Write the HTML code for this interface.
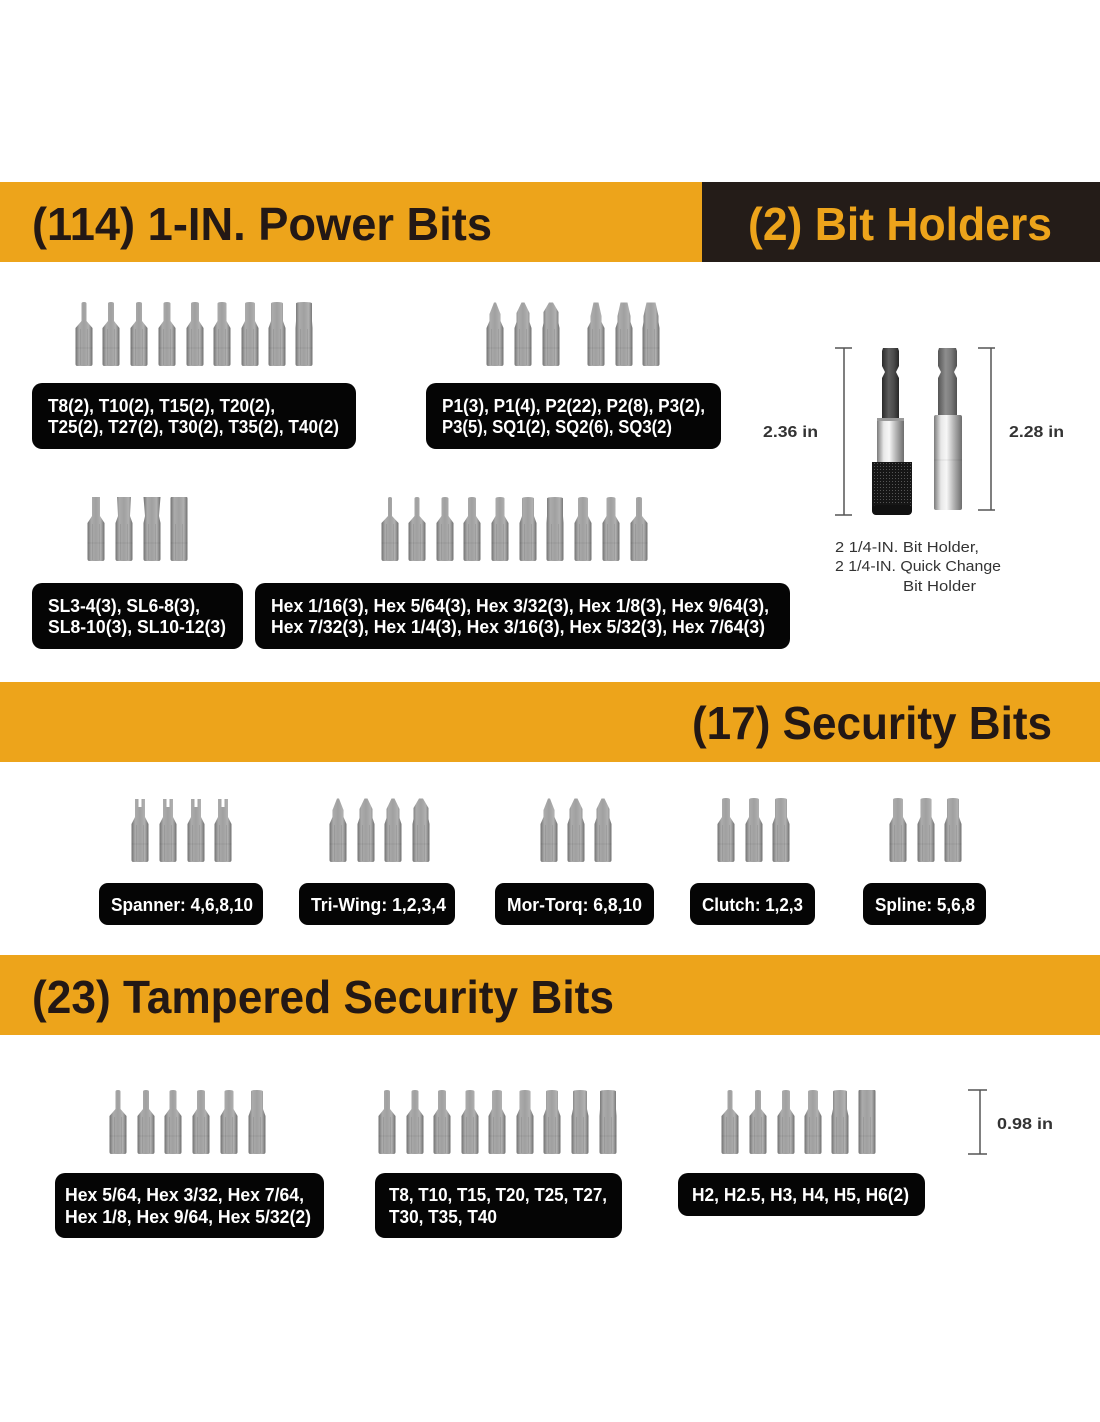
<!DOCTYPE html>
<html><head><meta charset="utf-8"><style>
html,body{margin:0;padding:0;background:#fff;}
svg{display:block;}
.hd{font-family:"Liberation Sans Narrow","Liberation Sans",sans-serif;font-weight:bold;font-size:46px;}
.lb{font-family:"Liberation Sans Narrow","Liberation Sans",sans-serif;font-weight:bold;font-size:18px;fill:#fff;}
.dm{font-family:"Liberation Sans",sans-serif;font-weight:bold;font-size:16px;fill:#333;}
.cp{font-family:"Liberation Sans",sans-serif;font-size:15px;fill:#333;}
</style></head><body>
<svg width="1100" height="1422" viewBox="0 0 1100 1422" xmlns="http://www.w3.org/2000/svg">
<defs>
<linearGradient id="g" x1="0" y1="0" x2="1" y2="0">
<stop offset="0" stop-color="#727272"/><stop offset=".22" stop-color="#ababab"/><stop offset=".5" stop-color="#a0a0a0"/><stop offset=".78" stop-color="#b0b0b0"/><stop offset="1" stop-color="#707070"/>
</linearGradient>
<linearGradient id="dk" x1="0" y1="0" x2="1" y2="0">
<stop offset="0" stop-color="#2a2a2a"/><stop offset=".4" stop-color="#5e5e5e"/><stop offset=".7" stop-color="#4a4a4a"/><stop offset="1" stop-color="#262626"/>
</linearGradient>
<linearGradient id="gr" x1="0" y1="0" x2="1" y2="0">
<stop offset="0" stop-color="#555"/><stop offset=".4" stop-color="#8e8e8e"/><stop offset=".7" stop-color="#7a7a7a"/><stop offset="1" stop-color="#505050"/>
</linearGradient>
<linearGradient id="sv" x1="0" y1="0" x2="1" y2="0">
<stop offset="0" stop-color="#7a7a7a"/><stop offset=".25" stop-color="#e8e8e8"/><stop offset=".45" stop-color="#f7f7f7"/><stop offset=".7" stop-color="#b5b5b5"/><stop offset="1" stop-color="#6d6d6d"/>
</linearGradient>
<pattern id="kn" width="3" height="3" patternUnits="userSpaceOnUse">
<rect width="3" height="3" fill="#161616"/><rect x="1" y="1" width="1" height="1" fill="#555"/>
</pattern>
<g id="fac"><line x1="-3.5" y1="27" x2="-3.5" y2="63" stroke="#000" stroke-opacity=".08"/><line x1="3.5" y1="27" x2="3.5" y2="63" stroke="#000" stroke-opacity=".08"/><line x1="-8.5" y1="46" x2="8.5" y2="46" stroke="#000" stroke-opacity=".07"/></g>
<g id="h20"><path fill="url(#g)" d="M-2,1.5Q-2,0 0,0Q2,0 2,1.5L2,19L8.5,26L8.5,62Q8.5,64 6.5,64L-6.5,64Q-8.5,64 -8.5,62L-8.5,26L-2,19Z"/><use href="#fac"/></g>
<g id="h25"><path fill="url(#g)" d="M-2.5,1.5Q-2.5,0 0,0Q2.5,0 2.5,1.5L2.5,19L8.5,26L8.5,62Q8.5,64 6.5,64L-6.5,64Q-8.5,64 -8.5,62L-8.5,26L-2.5,19Z"/><use href="#fac"/></g>
<g id="h30"><path fill="url(#g)" d="M-3,1.5Q-3,0 0,0Q3,0 3,1.5L3,19L8.5,26L8.5,62Q8.5,64 6.5,64L-6.5,64Q-8.5,64 -8.5,62L-8.5,26L-3,19Z"/><use href="#fac"/></g>
<g id="h35"><path fill="url(#g)" d="M-3.5,1.5Q-3.5,0 0,0Q3.5,0 3.5,1.5L3.5,19L8.5,26L8.5,62Q8.5,64 6.5,64L-6.5,64Q-8.5,64 -8.5,62L-8.5,26L-3.5,19Z"/><use href="#fac"/></g>
<g id="h40"><path fill="url(#g)" d="M-4,1.5Q-4,0 0,0Q4,0 4,1.5L4,19L8.5,26L8.5,62Q8.5,64 6.5,64L-6.5,64Q-8.5,64 -8.5,62L-8.5,26L-4,19Z"/><use href="#fac"/></g>
<g id="h45"><path fill="url(#g)" d="M-4.5,1.5Q-4.5,0 0,0Q4.5,0 4.5,1.5L4.5,19L8.5,26L8.5,62Q8.5,64 6.5,64L-6.5,64Q-8.5,64 -8.5,62L-8.5,26L-4.5,19Z"/><use href="#fac"/></g>
<g id="h50"><path fill="url(#g)" d="M-5,1.5Q-5,0 0,0Q5,0 5,1.5L5,19L8.5,26L8.5,62Q8.5,64 6.5,64L-6.5,64Q-8.5,64 -8.5,62L-8.5,26L-5,19Z"/><use href="#fac"/></g>
<g id="h55"><path fill="url(#g)" d="M-5.5,1.5Q-5.5,0 0,0Q5.5,0 5.5,1.5L5.5,19L8.5,26L8.5,62Q8.5,64 6.5,64L-6.5,64Q-8.5,64 -8.5,62L-8.5,26L-5.5,19Z"/><use href="#fac"/></g>
<g id="h60"><path fill="url(#g)" d="M-6,1.5Q-6,0 0,0Q6,0 6,1.5L6,19L8.5,26L8.5,62Q8.5,64 6.5,64L-6.5,64Q-8.5,64 -8.5,62L-8.5,26L-6,19Z"/><use href="#fac"/></g>
<g id="h70"><path fill="url(#g)" d="M-7,1.5Q-7,0 0,0Q7,0 7,1.5L7,19L8.5,26L8.5,62Q8.5,64 6.5,64L-6.5,64Q-8.5,64 -8.5,62L-8.5,26L-7,19Z"/><use href="#fac"/></g>
<g id="h80"><path fill="url(#g)" d="M-8,1.5Q-8,0 0,0Q8,0 8,1.5L8,19L8.5,26L8.5,62Q8.5,64 6.5,64L-6.5,64Q-8.5,64 -8.5,62L-8.5,26L-8,19Z"/><use href="#fac"/></g>
<g id="h90"><path fill="url(#g)" d="M-7.5,0L7.5,0Q8.5,0 8.5,1.5L8.5,62Q8.5,64 6.5,64L-6.5,64Q-8.5,64 -8.5,62L-8.5,1.5Q-8.5,0 -7.5,0Z"/><use href="#fac"/></g>
<g id="ph1"><path fill="url(#g)" d="M-1,0.5L1,0.5L5.5,12L5.5,19L8.5,26L8.5,62Q8.5,64 6.5,64L-6.5,64Q-8.5,64 -8.5,62L-8.5,26L-5.5,19L-5.5,12Z"/><use href="#fac"/></g>
<g id="ph2"><path fill="url(#g)" d="M-1.5,0.5L1.5,0.5L6.5,11L6.5,20L8.5,26L8.5,62Q8.5,64 6.5,64L-6.5,64Q-8.5,64 -8.5,62L-8.5,26L-6.5,20L-6.5,11Z"/><use href="#fac"/></g>
<g id="ph3"><path fill="url(#g)" d="M-2,0.5L2,0.5L7.5,10L7.5,21L8.5,26L8.5,62Q8.5,64 6.5,64L-6.5,64Q-8.5,64 -8.5,62L-8.5,26L-7.5,21L-7.5,10Z"/><use href="#fac"/></g>
<g id="sq1"><path fill="url(#g)" d="M-2.5,0.5L2.5,0.5L5.5,14L5.5,20L8.5,26L8.5,62Q8.5,64 6.5,64L-6.5,64Q-8.5,64 -8.5,62L-8.5,26L-5.5,20L-5.5,14Z"/><use href="#fac"/></g>
<g id="sq2"><path fill="url(#g)" d="M-3.5,0.5L3.5,0.5L6.5,14L6.5,20L8.5,26L8.5,62Q8.5,64 6.5,64L-6.5,64Q-8.5,64 -8.5,62L-8.5,26L-6.5,20L-6.5,14Z"/><use href="#fac"/></g>
<g id="sq3"><path fill="url(#g)" d="M-4.5,0.5L4.5,0.5L7.5,14L7.5,20L8.5,26L8.5,62Q8.5,64 6.5,64L-6.5,64Q-8.5,64 -8.5,62L-8.5,26L-7.5,20L-7.5,14Z"/><use href="#fac"/></g>
<g id="sl1"><path fill="url(#g)" d="M-4,0L4,0L4,19L8.5,26L8.5,62Q8.5,64 6.5,64L-6.5,64Q-8.5,64 -8.5,62L-8.5,26L-4,19Z"/><use href="#fac"/></g>
<g id="sl2"><path fill="url(#g)" d="M-7,0L7,0L6,19L8.5,26L8.5,62Q8.5,64 6.5,64L-6.5,64Q-8.5,64 -8.5,62L-8.5,26L-6,19Z"/><use href="#fac"/></g>
<g id="sl3"><path fill="url(#g)" d="M-8.5,0L8.5,0L7,19L8.5,26L8.5,62Q8.5,64 6.5,64L-6.5,64Q-8.5,64 -8.5,62L-8.5,26L-7,19Z"/><use href="#fac"/></g>
<g id="sp"><path fill="url(#g)" d="M-5,1L-1.5,1L-1.5,9L1.5,9L1.5,1L5,1L5,19L8.5,26L8.5,62Q8.5,64 6.5,64L-6.5,64Q-8.5,64 -8.5,62L-8.5,26L-5,19Z"/><use href="#fac"/></g>
</defs>

<!-- header bars -->
<rect x="0" y="182" width="702" height="80" fill="#EDA41B"/>
<rect x="702" y="182" width="398" height="80" fill="#241C18"/>
<text class="hd" x="32" y="240" fill="#231815" textLength="460" lengthAdjust="spacingAndGlyphs">(114) 1-IN. Power Bits</text>
<text class="hd" x="748" y="240" fill="#EDA41B" textLength="304" lengthAdjust="spacingAndGlyphs">(2) Bit Holders</text>

<rect x="0" y="682" width="1100" height="80" fill="#EDA41B"/>
<text class="hd" x="692" y="739" fill="#231815" textLength="360" lengthAdjust="spacingAndGlyphs">(17) Security Bits</text>

<rect x="0" y="955" width="1100" height="80" fill="#EDA41B"/>
<text class="hd" x="32" y="1013" fill="#231815" textLength="582" lengthAdjust="spacingAndGlyphs">(23) Tampered Security Bits</text>

<!-- row 1 torx -->
<use href="#h25" x="84" y="302"/><use href="#h30" x="111" y="302"/><use href="#h30" x="139" y="302"/>
<use href="#h35" x="167" y="302"/><use href="#h40" x="195" y="302"/><use href="#h45" x="222" y="302"/>
<use href="#h50" x="250" y="302"/><use href="#h60" x="277" y="302"/><use href="#h80" x="304" y="302"/>
<!-- phillips / square -->
<use href="#ph1" x="495" y="302"/><use href="#ph2" x="523" y="302"/><use href="#ph3" x="551" y="302"/>
<use href="#sq1" x="596" y="302"/><use href="#sq2" x="624" y="302"/><use href="#sq3" x="651" y="302"/>

<rect x="32" y="383" width="324" height="66" rx="10" fill="#050505"/>
<text class="lb" x="48" y="412" textLength="227" lengthAdjust="spacingAndGlyphs">T8(2), T10(2), T15(2), T20(2),</text>
<text class="lb" x="48" y="433" textLength="291" lengthAdjust="spacingAndGlyphs">T25(2), T27(2), T30(2), T35(2), T40(2)</text>
<rect x="426" y="383" width="295" height="66" rx="10" fill="#050505"/>
<text class="lb" x="442" y="412" textLength="263" lengthAdjust="spacingAndGlyphs">P1(3), P1(4), P2(22), P2(8), P3(2),</text>
<text class="lb" x="442" y="433" textLength="230" lengthAdjust="spacingAndGlyphs">P3(5), SQ1(2), SQ2(6), SQ3(2)</text>

<!-- row 2 slotted -->
<use href="#sl1" x="96" y="497"/><use href="#sl2" x="124" y="497"/><use href="#sl3" x="152" y="497"/><use href="#h90" x="179" y="497"/>
<!-- row 2 hex -->
<use href="#h20" x="390" y="497"/><use href="#h25" x="417" y="497"/><use href="#h35" x="445" y="497"/>
<use href="#h40" x="472" y="497"/><use href="#h45" x="500" y="497"/><use href="#h60" x="528" y="497"/>
<use href="#h80" x="555" y="497"/><use href="#h50" x="583" y="497"/><use href="#h45" x="611" y="497"/>
<use href="#h30" x="639" y="497"/>

<rect x="32" y="583" width="211" height="66" rx="10" fill="#050505"/>
<text class="lb" x="48" y="612" textLength="152" lengthAdjust="spacingAndGlyphs">SL3-4(3), SL6-8(3),</text>
<text class="lb" x="48" y="633" textLength="178" lengthAdjust="spacingAndGlyphs">SL8-10(3), SL10-12(3)</text>
<rect x="255" y="583" width="535" height="66" rx="10" fill="#050505"/>
<text class="lb" x="271" y="612" textLength="498" lengthAdjust="spacingAndGlyphs">Hex 1/16(3), Hex 5/64(3), Hex 3/32(3), Hex 1/8(3), Hex 9/64(3),</text>
<text class="lb" x="271" y="633" textLength="494" lengthAdjust="spacingAndGlyphs">Hex 7/32(3), Hex 1/4(3), Hex 3/16(3), Hex 5/32(3), Hex 7/64(3)</text>

<!-- bit holders -->
<line x1="844" y1="348" x2="844" y2="515" stroke="#555" stroke-width="1.5"/>
<line x1="835" y1="348" x2="852" y2="348" stroke="#555" stroke-width="1.5"/>
<line x1="835" y1="515" x2="852" y2="515" stroke="#555" stroke-width="1.5"/>
<line x1="991" y1="348" x2="991" y2="510" stroke="#555" stroke-width="1.5"/>
<line x1="978" y1="348" x2="995" y2="348" stroke="#555" stroke-width="1.5"/>
<line x1="978" y1="510" x2="995" y2="510" stroke="#555" stroke-width="1.5"/>
<text class="dm" x="763" y="437" textLength="55" lengthAdjust="spacingAndGlyphs">2.36 in</text>
<text class="dm" x="1009" y="437" textLength="55" lengthAdjust="spacingAndGlyphs">2.28 in</text>

<!-- holder 1 -->
<path d="M883,348L898,348L899,351L899,366L896,372L899,378L899,420L882,420L882,378L885,372L882,366L882,351Z" fill="url(#dk)"/>
<rect x="877" y="418" width="27" height="44" fill="url(#sv)"/>
<rect x="877" y="418" width="27" height="3" fill="#9a9a9a"/>
<path d="M872,462L912,462L912,509Q912,515 906,515L878,515Q872,515 872,509Z" fill="url(#kn)"/>
<rect x="872" y="505" width="40" height="10" rx="4" fill="#111"/>
<!-- holder 2 -->
<path d="M939,348L956,348L957,351L957,366L954,372L957,378L957,418L938,418L938,378L941,372L938,366L938,351Z" fill="url(#gr)"/>
<rect x="934" y="415" width="28" height="95" rx="2" fill="url(#sv)"/>
<line x1="934" y1="460" x2="962" y2="460" stroke="#000" stroke-opacity=".08"/>

<text class="cp" x="835" y="552" textLength="144" lengthAdjust="spacingAndGlyphs">2 1/4-IN. Bit Holder,</text>
<text class="cp" x="835" y="571" textLength="166" lengthAdjust="spacingAndGlyphs">2 1/4-IN. Quick Change</text>
<text class="cp" x="903" y="591" textLength="73" lengthAdjust="spacingAndGlyphs">Bit Holder</text>

<!-- security bits -->
<use href="#sp" x="140" y="798"/><use href="#sp" x="168" y="798"/><use href="#sp" x="196" y="798"/><use href="#sp" x="223" y="798"/>
<use href="#ph1" x="338" y="798"/><use href="#ph2" x="366" y="798"/><use href="#ph2" x="393" y="798"/><use href="#ph3" x="421" y="798"/>
<use href="#ph1" x="549" y="798"/><use href="#ph2" x="576" y="798"/><use href="#ph2" x="603" y="798"/>
<use href="#h40" x="726" y="798"/><use href="#h50" x="754" y="798"/><use href="#h60" x="781" y="798"/>
<use href="#h50" x="898" y="798"/><use href="#h55" x="926" y="798"/><use href="#h60" x="953" y="798"/>

<rect x="99" y="883" width="164" height="42" rx="9" fill="#050505"/>
<text class="lb" x="111" y="911" textLength="142" lengthAdjust="spacingAndGlyphs">Spanner: 4,6,8,10</text>
<rect x="299" y="883" width="156" height="42" rx="9" fill="#050505"/>
<text class="lb" x="311" y="911" textLength="135" lengthAdjust="spacingAndGlyphs">Tri-Wing: 1,2,3,4</text>
<rect x="495" y="883" width="159" height="42" rx="9" fill="#050505"/>
<text class="lb" x="507" y="911" textLength="135" lengthAdjust="spacingAndGlyphs">Mor-Torq: 6,8,10</text>
<rect x="690" y="883" width="125" height="42" rx="9" fill="#050505"/>
<text class="lb" x="702" y="911" textLength="101" lengthAdjust="spacingAndGlyphs">Clutch: 1,2,3</text>
<rect x="863" y="883" width="123" height="42" rx="9" fill="#050505"/>
<text class="lb" x="875" y="911" textLength="100" lengthAdjust="spacingAndGlyphs">Spline: 5,6,8</text>

<!-- tampered bits -->
<use href="#h25" x="118" y="1090"/><use href="#h30" x="146" y="1090"/><use href="#h35" x="173" y="1090"/>
<use href="#h40" x="201" y="1090"/><use href="#h45" x="229" y="1090"/><use href="#h60" x="257" y="1090"/>
<use href="#h30" x="387" y="1090"/><use href="#h35" x="415" y="1090"/><use href="#h40" x="442" y="1090"/>
<use href="#h45" x="470" y="1090"/><use href="#h50" x="497" y="1090"/><use href="#h55" x="525" y="1090"/>
<use href="#h60" x="552" y="1090"/><use href="#h70" x="580" y="1090"/><use href="#h80" x="608" y="1090"/>
<use href="#h25" x="730" y="1090"/><use href="#h30" x="758" y="1090"/><use href="#h40" x="786" y="1090"/>
<use href="#h50" x="813" y="1090"/><use href="#h70" x="840" y="1090"/><use href="#h90" x="867" y="1090"/>

<rect x="55" y="1173" width="269" height="65" rx="10" fill="#050505"/>
<text class="lb" x="65" y="1201" textLength="239" lengthAdjust="spacingAndGlyphs">Hex 5/64, Hex 3/32, Hex 7/64,</text>
<text class="lb" x="65" y="1223" textLength="246" lengthAdjust="spacingAndGlyphs">Hex 1/8, Hex 9/64, Hex 5/32(2)</text>
<rect x="375" y="1173" width="247" height="65" rx="10" fill="#050505"/>
<text class="lb" x="389" y="1201" textLength="218" lengthAdjust="spacingAndGlyphs">T8, T10, T15, T20, T25, T27,</text>
<text class="lb" x="389" y="1223" textLength="108" lengthAdjust="spacingAndGlyphs">T30, T35, T40</text>
<rect x="678" y="1173" width="247" height="43" rx="10" fill="#050505"/>
<text class="lb" x="692" y="1201" textLength="217" lengthAdjust="spacingAndGlyphs">H2, H2.5, H3, H4, H5, H6(2)</text>

<line x1="980" y1="1090" x2="980" y2="1154" stroke="#555" stroke-width="1.5"/>
<line x1="968" y1="1090" x2="987" y2="1090" stroke="#555" stroke-width="1.5"/>
<line x1="968" y1="1154" x2="987" y2="1154" stroke="#555" stroke-width="1.5"/>
<text class="dm" x="997" y="1129" textLength="56" lengthAdjust="spacingAndGlyphs">0.98 in</text>
</svg>
</body></html>
